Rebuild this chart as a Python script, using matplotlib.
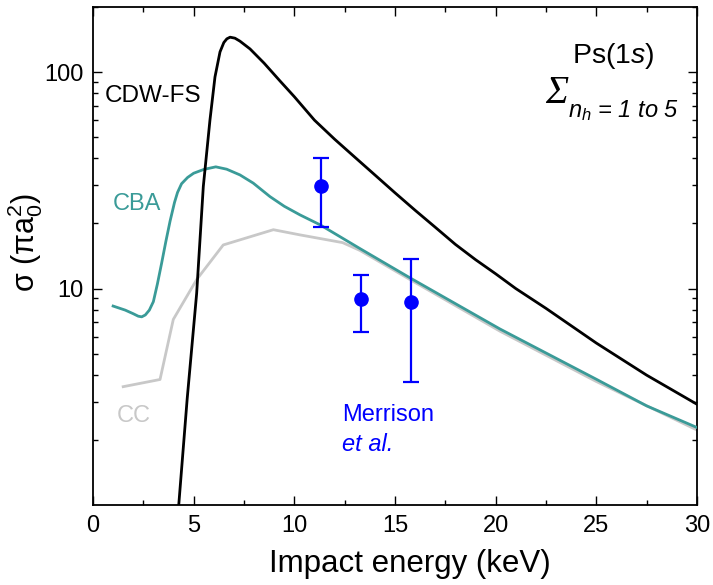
import numpy as np
import matplotlib
matplotlib.use("Agg")
import matplotlib.pyplot as plt
from matplotlib.ticker import LogLocator, NullFormatter, MultipleLocator

plt.rcParams['font.family'] = ['Liberation Sans', 'DejaVu Sans']
plt.rcParams['mathtext.fontset'] = 'custom'
plt.rcParams['mathtext.rm'] = 'Liberation Sans'
plt.rcParams['mathtext.it'] = 'Liberation Sans:italic'

# CDW-FS curve (black)
cdw_x = [4.2, 4.68, 5.15, 5.48, 5.81, 6.06, 6.31, 6.5, 6.65, 6.81, 7.05, 7.3, 7.8, 8.5, 9.29,
         10.0, 11.0, 12.0, 13.0, 14.0, 15.0, 16.0, 17.0, 18.0, 19.0, 20.0, 21.0, 22.5,
         25.0, 27.5, 30.0]
cdw_y = [0.85, 3.1, 9.5, 29.6, 60.0, 95.0, 124.0, 137.0, 142.5, 145.0, 143.5, 139.0, 128.0,
         110.0, 91.0, 77.0, 60.0, 49.0, 40.5, 33.5, 27.7, 23.0, 19.2, 16.0, 13.6, 11.7, 10.0,
         8.1, 5.6, 3.98, 2.92]

# CBA curve (teal)
cba_x = [1.0, 1.6, 2.0, 2.25, 2.42, 2.6, 2.8, 3.0, 3.2, 3.41, 3.62, 3.83, 4.05, 4.2, 4.4,
         4.7, 5.0, 5.5, 6.1, 6.64, 7.3, 7.96, 8.79, 9.5, 10.28, 11.28, 13.26, 15.75, 20.22,
         25.0, 27.5, 30.0]
cba_y = [8.3, 7.95, 7.65, 7.45, 7.4, 7.55, 7.95, 8.7, 10.5, 13.1, 16.5, 20.5, 25.0, 27.8, 30.5,
         32.6, 34.1, 35.5, 36.5, 35.6, 33.5, 30.7, 26.6, 24.0, 21.9, 19.7, 15.3, 11.2, 6.5,
         3.81, 2.87, 2.28]

# CC curve (grey)
cc_x = [1.5, 3.33, 3.99, 5.15, 6.47, 8.96, 10.28, 12.4, 13.26, 15.75, 20.22, 25.0, 30.0]
cc_y = [3.52, 3.8, 7.2, 11.0, 15.9, 18.7, 17.7, 16.3, 15.0, 11.0, 6.35, 3.72, 2.22]

# Merrison et al. experiment
exp_x = [11.33, 13.31, 15.8]
exp_y = [29.9, 8.9, 8.7]
exp_lo = [19.3, 6.27, 3.69]
exp_hi = [40.2, 11.5, 13.7]

TEAL = '#3a9b98'
GREY = '#c8c8c8'

fig = plt.figure(figsize=(7.13, 5.85), dpi=100)
ax = fig.add_axes([0.1304, 0.1368, 0.8471, 0.8513])

ax.plot(cc_x, cc_y, color=GREY, lw=2.0, zorder=2)
ax.plot(cba_x, cba_y, color=TEAL, lw=2.0, zorder=3)
ax.plot(cdw_x, cdw_y, color='black', lw=2.0, zorder=4)

yerr = [np.array(exp_y) - np.array(exp_lo), np.array(exp_hi) - np.array(exp_y)]
ax.errorbar(exp_x, exp_y, yerr=yerr, fmt='o', color='#0000ff', ms=9.5,
            elinewidth=1.6, capsize=5.5, capthick=1.6, zorder=5)

ax.set_yscale('log')
ax.set_xlim(0, 30)
ax.set_ylim(1, 200)
ax.xaxis.set_major_locator(MultipleLocator(5))
ax.xaxis.set_minor_locator(MultipleLocator(2.5))
ax.set_yticks([10, 100])
ax.set_yticklabels(['10', '100'])
ax.yaxis.set_minor_locator(LogLocator(base=10, subs=np.arange(2, 10)))
ax.yaxis.set_minor_formatter(NullFormatter())
ax.tick_params(which='both', direction='in', top=True, right=True, width=1.0,
               labelsize=17, pad=7)
ax.tick_params(which='major', length=6.5)
ax.tick_params(which='minor', length=3.8)
for s in ax.spines.values():
    s.set_linewidth(1.3)

ax.set_xlabel('Impact energy (keV)', fontsize=22.5)
ax.xaxis.set_label_coords(0.524, -0.088)
ax.set_ylabel(r'σ (πa$_0^2$)', fontsize=22)
ax.yaxis.set_label_coords(-0.08, 0.526)

ax.text(0.6, 72.8, 'CDW-FS', fontsize=17.5, color='black', va='baseline')
ax.text(1.0, 23.1, 'CBA', fontsize=17, color=TEAL, va='baseline')
ax.text(1.19, 2.41, 'CC', fontsize=17, color=GREY, va='baseline')
ax.text(12.37, 2.44, 'Merrison', fontsize=17, color='#0000ff', va='baseline')
ax.text(12.37, 1.77, 'et al.', fontsize=17, color='#0000ff', va='baseline', style='italic')

ax.text(23.8, 110, r'Ps($\mathit{1s}$)', fontsize=20.5, va='baseline')
ax.text(22.45, 72, 'Σ', fontsize=28, va='baseline', family='Liberation Serif', style='italic')
ax.text(23.6, 62, r'$n_h$ = 1 to 5', fontsize=17, va='baseline', style='italic')

fig.savefig('out.png', dpi=100)
